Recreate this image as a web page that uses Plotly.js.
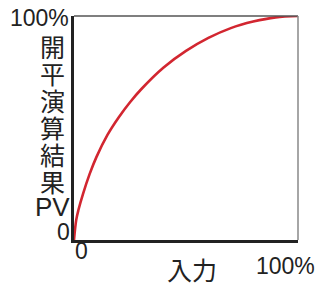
<!DOCTYPE html>
<html><head><meta charset="utf-8">
<script src="https://cdn.plot.ly/plotly-3.0.1.min.js"></script>
<style>html,body{margin:0;padding:0;background:#fff}#c{width:315px;height:286px}</style>
</head><body><div id="c"></div>
<script>
// Input (%) and square-root extraction result PV (%)
var inputPct = [0, 1, 2, 4, 7, 10, 15, 20, 25, 30, 40, 50, 60, 70, 80, 90, 100];
var pvPct    = [0, 9, 13.5, 20.5, 29.5, 37, 47, 54.8, 61.5, 67.3, 77, 84.4, 90.2, 94.6, 97.5, 99.4, 100];
var yTickLabels = ['0', '100%'];
var xTickLabels = ['0', '100%'];
var yTitleChars = ['開', '平', '演', '算', '結', '果', 'PV'];
var xTitle = '入力';

var L = 74, T = 16, W = 224, H = 224;
function px(x){ return (x - L) / W; }
function py(y){ return (T + H - y) / H; }

var txt = {family: 'Liberation Sans, Arial, sans-serif', size: 23, color: '#222'};
var cjk = {family: 'Noto Sans CJK JP, sans-serif', size: 25, color: '#222'};

var ann = [];
ann.push({text: yTickLabels[1], x: px(71), y: py(18), xanchor: 'right', yanchor: 'middle', font: txt});
ann.push({text: yTickLabels[0], x: px(72), y: py(232), xanchor: 'right', yanchor: 'middle', font: txt});
ann.push({text: xTickLabels[0], x: px(81), y: py(251), xanchor: 'center', yanchor: 'middle', font: txt});
ann.push({text: xTickLabels[1], x: px(285), y: py(266), xanchor: 'center', yanchor: 'middle', font: txt});
ann.push({text: xTitle, x: px(192), y: py(269), xanchor: 'center', yanchor: 'middle', font: cjk});
var ys = [46, 73, 100, 127, 154, 181, 207];
yTitleChars.forEach(function(c, i){
  ann.push({text: c, x: px(52), y: py(ys[i]), xanchor: 'center', yanchor: 'middle',
    font: (c === 'PV') ? {family: txt.family, size: 26, color: '#222'} : cjk});
});
ann.forEach(function(a){ a.xref = 'paper'; a.yref = 'paper'; a.showarrow = false; });

var data = [{
  x: inputPct, y: pvPct, type: 'scatter', mode: 'lines',
  line: {color: '#d22630', width: 2.6, shape: 'spline', smoothing: 1},
  hoverinfo: 'skip'
}];

var layout = {
  width: 315, height: 286,
  margin: {l: L, r: 315 - L - W, t: T, b: 286 - T - H},
  paper_bgcolor: '#fff', plot_bgcolor: '#fff',
  showlegend: false,
  xaxis: {range: [0, 100], showgrid: false, zeroline: false, showticklabels: false, ticks: '',
          showline: true, linecolor: '#222', linewidth: 3, fixedrange: true},
  yaxis: {range: [0, 100], showgrid: false, zeroline: false, showticklabels: false, ticks: '',
          showline: true, linecolor: '#222', linewidth: 3, fixedrange: true},
  shapes: [
    {type: 'line', xref: 'paper', yref: 'paper', x0: 0, x1: 1, y0: 1, y1: 1, line: {color: '#555', width: 1.5}},
    {type: 'line', xref: 'paper', yref: 'paper', x0: 1, x1: 1, y0: 0, y1: 1, line: {color: '#888', width: 1.5}}
  ],
  annotations: ann
};
Plotly.newPlot('c', data, layout, {displayModeBar: false, staticPlot: true});
</script></body></html>
